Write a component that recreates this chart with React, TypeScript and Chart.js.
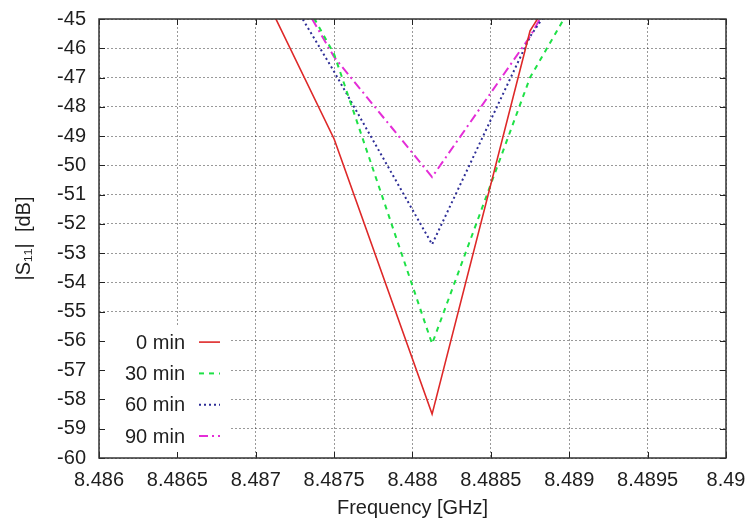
import React, { useEffect, useRef } from "react";
import { Chart, registerables } from "chart.js";

Chart.register(...registerables);

// Frequency samples (GHz)
const frequencies = [8.486875, 8.4875, 8.488125, 8.48875, 8.489375];
// |S11| in dB for each measurement time
const s11_0min = [-42.2, -49.1, -58.5, -45.4, -40.1];
const s11_30min = [-40.2, -46.2, -56.1, -47.0, -41.2];
const s11_60min = [-41.2, -46.8, -52.7, -45.6, -40.7];
const s11_90min = [-40.5, -46.3, -50.4, -45.6, -39.6];
const seriesLabels = ["0 min", "30 min", "60 min", "90 min"];

const xTickValues = [8.486, 8.4865, 8.487, 8.4875, 8.488, 8.4885, 8.489, 8.4895, 8.49];
const xTickLabels = ["8.486", "8.4865", "8.487", "8.4875", "8.488", "8.4885", "8.489", "8.4895", "8.49"];
const yTickValues = [-60, -59, -58, -57, -56, -55, -54, -53, -52, -51, -50, -49, -48, -47, -46, -45];
const yTickLabels = ["-60", "-59", "-58", "-57", "-56", "-55", "-54", "-53", "-52", "-51", "-50", "-49", "-48", "-47", "-46", "-45"];

const FONT = "'Liberation Sans', Arial, Helvetica, sans-serif";
const TEXT = "#1e1e1e";
const FS = 20;

const frameAndLegend = {
  id: "frameAndLegend",
  afterDatasetsDraw(chart: any) {
    const { ctx, chartArea } = chart;
    const { left, right, top, bottom } = chartArea;
    ctx.save();
    // legend box (opaque, gnuplot style)
    ctx.fillStyle = "#ffffff";
    ctx.fillRect(left + 1, bottom - 133, 129, 132);
    ctx.font = `${FS}px ${FONT}`;
    ctx.textAlign = "right";
    ctx.textBaseline = "middle";
    const n = chart.data.datasets.length;
    chart.data.datasets.forEach((ds: any, i: number) => {
      const y = bottom - 22 - (n - 1 - i) * 31.3;
      ctx.fillStyle = TEXT;
      ctx.fillText(ds.label, left + 86, y + 1);
      ctx.beginPath();
      ctx.strokeStyle = ds.borderColor;
      ctx.lineWidth = ds.borderWidth;
      ctx.setLineDash(ds.borderDash || []);
      ctx.moveTo(left + 100, y);
      ctx.lineTo(left + 121, y);
      ctx.stroke();
    });
    ctx.setLineDash([]);
    // inward ticks on all four sides
    const xs = chart.scales.x;
    const ys = chart.scales.y;
    ctx.strokeStyle = "#222";
    ctx.lineWidth = 1;
    ctx.beginPath();
    xTickValues.forEach((v) => {
      const px = Math.round(xs.getPixelForValue(v)) + 0.5;
      ctx.moveTo(px, bottom);
      ctx.lineTo(px, bottom - 6);
      ctx.moveTo(px, top);
      ctx.lineTo(px, top + 6);
    });
    yTickValues.forEach((v) => {
      const py = Math.round(ys.getPixelForValue(v)) + 0.5;
      ctx.moveTo(left, py);
      ctx.lineTo(left + 6, py);
      ctx.moveTo(right, py);
      ctx.lineTo(right - 6, py);
    });
    ctx.stroke();
    // border
    ctx.strokeStyle = "#333";
    ctx.lineWidth = 1.5;
    ctx.strokeRect(left, top, right - left, bottom - top);
    ctx.restore();
  },
};

export default function App() {
  const ref = useRef<HTMLCanvasElement | null>(null);
  useEffect(() => {
    if (!ref.current) return;
    const mk = (vals: number[]) => frequencies.map((x, i) => ({ x, y: vals[i] }));
    const chart = new Chart(ref.current, {
      type: "line",
      data: {
        datasets: [
          { label: seriesLabels[0], data: mk(s11_0min), borderColor: "rgb(222,40,40)", borderWidth: 1.6, borderDash: [], pointRadius: 0, tension: 0, clip: 0 },
          { label: seriesLabels[1], data: mk(s11_30min), borderColor: "rgb(30,225,70)", borderWidth: 2, borderDash: [5, 5], pointRadius: 0, tension: 0, clip: 0 },
          { label: seriesLabels[2], data: mk(s11_60min), borderColor: "rgb(45,45,150)", borderWidth: 2, borderDash: [2, 3], pointRadius: 0, tension: 0, clip: 0 },
          { label: seriesLabels[3], data: mk(s11_90min), borderColor: "rgb(228,45,215)", borderWidth: 2, borderDash: [9, 4, 2, 4], pointRadius: 0, tension: 0, clip: 0 },
        ] as any,
      },
      options: {
        responsive: false,
        animation: false,
        devicePixelRatio: 1,
        layout: { padding: { top: 19, right: 25, bottom: 0, left: 0 } },
        plugins: { legend: { display: false }, tooltip: { enabled: false } },
        scales: {
          x: {
            type: "linear",
            min: 8.486,
            max: 8.49,
            afterBuildTicks: (s: any) => {
              s.ticks = xTickValues.map((v) => ({ value: v }));
            },
            afterFit: (s: any) => {
              s.height = 67;
              s.paddingLeft = 0;
              s.paddingRight = 0;
            },
            ticks: {
              callback: (_v: any, i: number) => xTickLabels[i],
              font: { family: FONT, size: FS },
              color: TEXT,
              padding: 10,
              maxRotation: 0,
              autoSkip: false,
            },
            grid: { color: "rgba(0,0,0,0.4)", lineWidth: 1, drawTicks: false },
            border: { display: false, dash: [2, 2] },
            title: {
              display: true,
              text: "Frequency [GHz]",
              font: { family: FONT, size: FS },
              color: TEXT,
              padding: { top: 0, bottom: 5 },
            },
          },
          y: {
            type: "linear",
            min: -60,
            max: -45,
            afterBuildTicks: (s: any) => {
              s.ticks = yTickValues.map((v) => ({ value: v }));
            },
            afterFit: (s: any) => {
              s.width = 99;
              s.paddingTop = 0;
              s.paddingBottom = 0;
            },
            ticks: {
              callback: (_v: any, i: number) => yTickLabels[i],
              font: { family: FONT, size: FS },
              color: TEXT,
              padding: 13,
              autoSkip: false,
            },
            grid: { color: "rgba(0,0,0,0.4)", lineWidth: 1, drawTicks: false },
            border: { display: false, dash: [2, 2] },
            title: {
              display: true,
              text: "|S\u2081\u2081|  [dB]",
              font: { family: FONT, size: FS },
              color: TEXT,
              padding: { top: 12, bottom: 0 },
            },
          },
        },
      } as any,
      plugins: [frameAndLegend],
    });
    return () => chart.destroy();
  }, []);
  return (
    <div style={{ position: "absolute", left: 0, top: 0, width: 751, height: 525, background: "#fff" }}>
      <canvas ref={ref} width={751} height={525} />
    </div>
  );
}
